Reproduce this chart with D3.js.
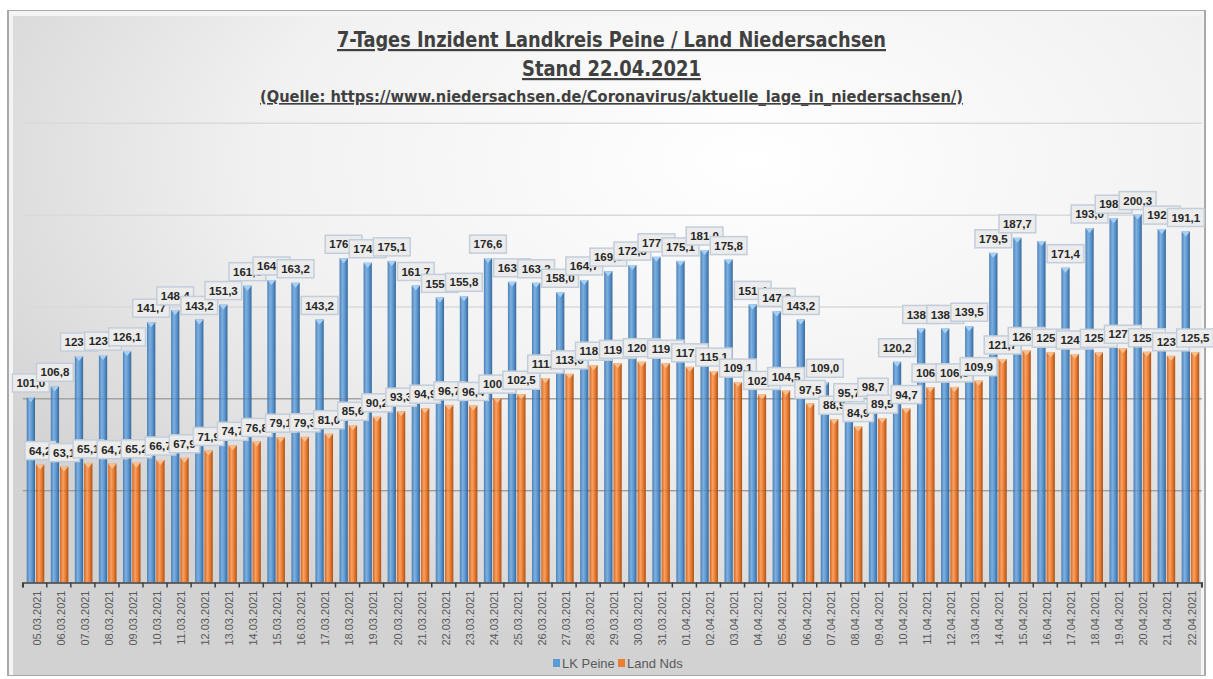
<!DOCTYPE html>
<html>
<head>
<meta charset="utf-8">
<script src="https://cdn.jsdelivr.net/npm/d3@7"></script>
<style>
  body { margin: 0; background: #fff; }
  .chart svg { display: block; }
</style>
</head>
<body>
<div class="chart"></div>
<script>
// data
const dates = ["05.03.2021","06.03.2021","07.03.2021","08.03.2021","09.03.2021","10.03.2021","11.03.2021",
  "12.03.2021","13.03.2021","14.03.2021","15.03.2021","16.03.2021","17.03.2021","18.03.2021","19.03.2021",
  "20.03.2021","21.03.2021","22.03.2021","23.03.2021","24.03.2021","25.03.2021","26.03.2021","27.03.2021",
  "28.03.2021","29.03.2021","30.03.2021","31.03.2021","01.04.2021","02.04.2021","03.04.2021","04.04.2021",
  "05.04.2021","06.04.2021","07.04.2021","08.04.2021","09.04.2021","10.04.2021","11.04.2021","12.04.2021",
  "13.04.2021","14.04.2021","15.04.2021","16.04.2021","17.04.2021","18.04.2021","19.04.2021","20.04.2021",
  "21.04.2021","22.04.2021"];

const peine = [101.0,106.8,123.3,123.8,126.1,141.7,148.4,143.2,151.3,161.6,164.7,163.2,143.2,176.5,174.1,
  175.1,161.7,155.2,155.8,176.6,163.7,163.2,158.0,164.7,169.5,172.8,177.3,175.1,181.0,175.8,151.4,
  147.6,143.2,109.0,95.7,98.7,120.2,138.3,138.3,139.5,179.5,187.7,185.9,171.4,193.0,198.3,200.3,
  192.4,191.1];

const landNds = [64.2,63.1,65.1,64.7,65.2,66.7,67.9,71.9,74.7,76.8,79.1,79.3,81.0,85.6,90.2,
  93.3,94.9,96.7,96.4,100.4,102.5,111.3,113.6,118.3,119.3,120.2,119.4,117.4,115.1,109.1,102.4,
  104.5,97.5,88.9,84.9,89.5,94.7,106.4,106.5,109.9,121.7,126.3,125.4,124.4,125.3,127.5,125.6,
  123.4,125.5];

// labels not shown in the picture
const hiddenPeine = ["16.04.2021"];

const seriesNames = ["LK Peine", "Land Nds"];
const gridTicks = [50, 100, 150, 200, 250];

const W = 1213, H = 679;
const margin = ({top: 123.3, right: 11.3, bottom: 96.5, left: 22.7});
const width = W - margin.left - margin.right,
      height = H - margin.top - margin.bottom;

const de = d3.formatLocale({decimal: ",", thousands: ".", grouping: [3], currency: ["", "€"]});
const fmt = de.format(".1f");

const svg = d3.select(".chart").append("svg")
  .attr("width", W)
  .attr("height", H);

const defs = svg.append("defs");

const bg = defs.append("radialGradient")
  .attr("id", "bg").attr("cx", "62%").attr("cy", "22%").attr("r", "75%");
bg.append("stop").attr("offset", "0%").attr("stop-color", "#ffffff");
bg.append("stop").attr("offset", "55%").attr("stop-color", "#f1f1f1");
bg.append("stop").attr("offset", "100%").attr("stop-color", "#d2d2d2");

function barGrad(id, c) {
  const g = defs.append("linearGradient").attr("id", id)
    .attr("x1", "0%").attr("x2", "100%").attr("y1", "0%").attr("y2", "0%");
  g.append("stop").attr("offset", "0%").attr("stop-color", c[0]);
  g.append("stop").attr("offset", "35%").attr("stop-color", c[1]);
  g.append("stop").attr("offset", "65%").attr("stop-color", c[2]);
  g.append("stop").attr("offset", "100%").attr("stop-color", c[3]);
}
barGrad("gBlue", ["#4d80b5", "#7eb0e0", "#5b97d0", "#3a6797"]);
barGrad("gOrange", ["#d2651f", "#f8a264", "#ec7c30", "#a9531a"]);

// frame
svg.append("rect")
  .attr("x", 7).attr("y", 10).attr("width", W - 14).attr("height", H - 13)
  .attr("fill", "#a9a9a9");
svg.append("rect")
  .attr("x", 9).attr("y", 11).attr("width", W - 18).attr("height", H - 15)
  .attr("fill", "#f4f4f4");
svg.append("rect")
  .attr("x", 13).attr("y", 16).attr("width", W - 25).attr("height", H - 20)
  .attr("fill", "url(#bg)");

// titles
const titles = [
  {text: "7-Tages Inzident Landkreis Peine / Land Niedersachsen", y: 47, size: 22, w: 549},
  {text: "Stand 22.04.2021", y: 76, size: 22, w: 179},
  {text: "(Quelle: https://www.niedersachsen.de/Coronavirus/aktuelle_lage_in_niedersachsen/)", y: 102, size: 16.5, w: 703}
];
svg.selectAll(".title")
  .data(titles)
  .enter()
  .append("text")
  .attr("class", "title")
  .attr("x", 611.5)
  .attr("y", d => d.y)
  .attr("text-anchor", "middle")
  .attr("textLength", d => d.w)
  .attr("lengthAdjust", "spacingAndGlyphs")
  .style("font-family", "'Liberation Sans Narrow', 'DejaVu Sans Condensed', sans-serif")
  .style("font-weight", "bold")
  .style("font-size", d => d.size + "px")
  .style("text-decoration", "underline")
  .style("fill", "#404040")
  .text(d => d.text);

const g = svg.append("g")
  .attr("transform", "translate(" + margin.left + "," + margin.top + ")");

const xScale = d3.scaleBand()
  .domain(dates)
  .range([0, width]);

const yScale = d3.scaleLinear()
  .domain([0, 250])
  .range([height, 0]);

// gridlines
g.selectAll(".grid")
  .data(gridTicks)
  .enter()
  .append("line")
  .attr("class", "grid")
  .attr("x1", 0).attr("x2", width)
  .attr("y1", d => yScale(d)).attr("y2", d => yScale(d))
  .attr("stroke", d => d <= 100 ? "#b5b5b5" : "#dadada")
  .attr("stroke-width", 1.5);

const bw = 8.3;
const series = [
  {name: seriesNames[0], values: peine, off: 4, fill: "url(#gBlue)", cap: "#a8d0f4"},
  {name: seriesNames[1], values: landNds, off: 13.3, fill: "url(#gOrange)", cap: "#fbbf8f"}
];

series.forEach(s => {
  const sg = g.append("g");
  sg.selectAll("rect")
    .data(dates)
    .enter()
    .append("rect")
    .attr("x", d => xScale(d) + s.off)
    .attr("y", (d, i) => yScale(s.values[i]))
    .attr("width", bw)
    .attr("height", (d, i) => height - yScale(s.values[i]))
    .attr("fill", s.fill);
  // top face of the 3d column
  sg.selectAll("polygon")
    .data(dates)
    .enter()
    .append("polygon")
    .attr("points", (d, i) => {
      const x0 = xScale(d) + s.off, y0 = yScale(s.values[i]);
      return [[x0, y0], [x0 + bw, y0], [x0 + bw / 2, y0 + 5]].join(" ");
    })
    .attr("fill", s.cap);
});

// faint gridline over the columns
g.selectAll(".grid2")
  .data(gridTicks.filter(d => d <= 100))
  .enter()
  .append("line")
  .attr("x1", 0).attr("x2", width)
  .attr("y1", d => yScale(d)).attr("y2", d => yScale(d))
  .attr("stroke", "#555")
  .attr("stroke-opacity", 0.25)
  .attr("stroke-width", 1);

// x axis
const xAxis = d3.axisBottom(xScale).tickSize(5).tickSizeOuter(5);
const ax = g.append("g")
  .attr("class", "axis x-axis")
  .attr("transform", `translate(0, ${height})`)
  .call(xAxis);
ax.select(".domain").attr("stroke", "#404040").attr("stroke-width", 1.5);
ax.selectAll(".tick line")
  .attr("stroke", "#404040").attr("stroke-width", 1.5)
  .attr("transform", `translate(${-xScale.bandwidth() / 2},0)`);
// closing tick on the right
ax.append("line")
  .attr("x1", width).attr("x2", width).attr("y1", 0).attr("y2", 5)
  .attr("stroke", "#404040").attr("stroke-width", 1.5);
ax.selectAll(".tick text")
  .attr("transform", "translate(2,0) rotate(-90)")
  .attr("text-anchor", "end")
  .attr("x", -8)
  .attr("y", 0)
  .attr("dy", "0.35em")
  .style("font-family", "'Liberation Sans', Arial, sans-serif")
  .style("font-size", "11px")
  .style("fill", "#595959");

// data labels, drawn day by day: blue then orange
const labels = [];
dates.forEach((d, i) => {
  series.forEach((s, k) => {
    if (k === 0 && hiddenPeine.includes(d)) return;
    labels.push({x: xScale(d) + s.off + bw / 2, y: yScale(s.values[i]), text: fmt(s.values[i])});
  });
});

const lab = g.selectAll(".lab")
  .data(labels)
  .enter()
  .append("g")
  .attr("class", "lab")
  .attr("transform", d => "translate(" + d.x + "," + (d.y - 14) + ")");

lab.append("rect")
  .attr("fill", "#ececec")
  .attr("stroke", "#c3cedb")
  .attr("stroke-width", 1.5);

lab.append("text")
  .attr("text-anchor", "middle")
  .attr("dy", "0.36em")
  .style("font-family", "'Liberation Sans', Arial, sans-serif")
  .style("font-weight", "bold")
  .style("font-size", "11.5px")
  .style("fill", "#262626")
  .text(d => d.text);

lab.each(function() {
  const t = d3.select(this).select("text").node().getComputedTextLength();
  d3.select(this).select("rect")
    .attr("x", -t / 2 - 4).attr("y", -9)
    .attr("width", t + 8).attr("height", 18);
});

// legend
const colors = ["#5b9bd5", "#ed7d31"];
const legend = svg.selectAll(".legend")
  .data(seriesNames)
  .enter()
  .append("g")
  .attr("class", "legend")
  .attr("transform", (d, i) => "translate(" + (553 + i * 65) + ",663)");

legend.append("rect")
  .attr("x", 0).attr("y", -4)
  .attr("width", 7).attr("height", 8)
  .attr("fill", (d, i) => colors[i]);

legend.append("text")
  .attr("x", 9)
  .attr("dy", "0.35em")
  .style("font-family", "'Liberation Sans Narrow', 'Liberation Sans', sans-serif")
  .style("font-size", "13px")
  .style("fill", "#595959")
  .text(d => d);
</script>
</body>
</html>
